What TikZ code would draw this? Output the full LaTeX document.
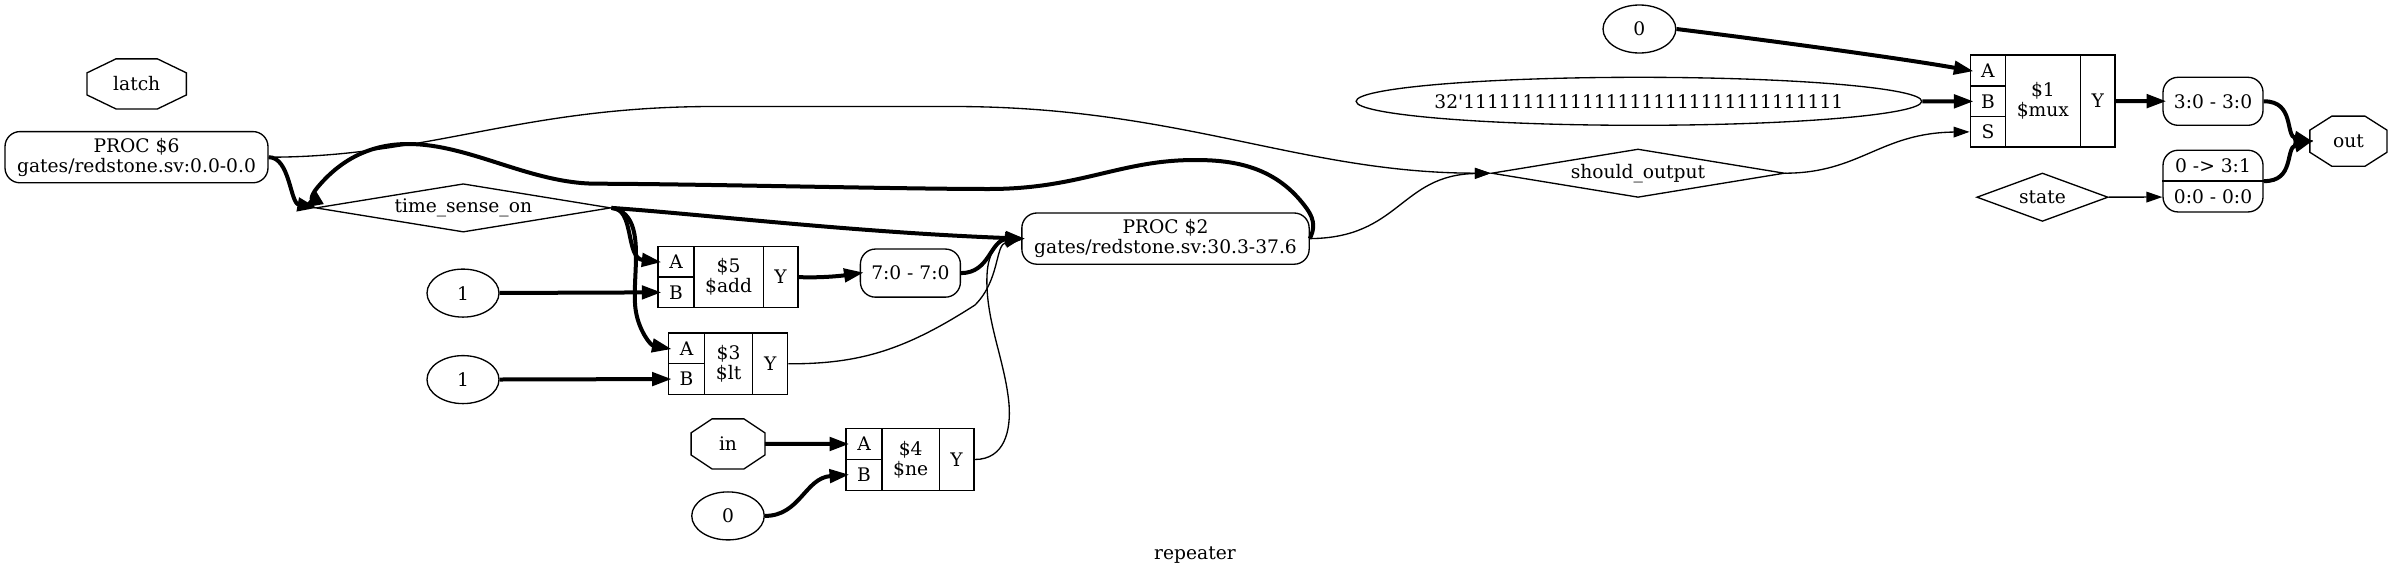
\documentclass[tikz,border=0pt]{standalone}
\usepackage{fontspec}
\setmainfont{DejaVu Serif}
\usetikzlibrary{arrows.meta,shapes.geometric}
\newcommand{\octagonpin}[3]{\draw[line width=1.33pt] ([xshift=#2]#1.north west) -- ([xshift=-#2]#1.north east) -- ([yshift=#3]#1.north east) -- ([yshift=-#3]#1.south east) -- ([xshift=-#2]#1.south east) -- ([xshift=#2]#1.south west) -- ([yshift=-#3]#1.south west) -- ([yshift=#3]#1.north west) -- cycle;}
\tikzset{
	every node/.style={font=\fontsize{18.67}{20}\selectfont, align=center, inner sep=0, line width=1.33pt},
	pin/.style={rectangle, minimum height=48.8},
	const/.style={draw, ellipse, minimum height=48},
	signal/.style={draw, diamond, shape aspect=6, minimum height=48.4},
	proc/.style={draw, rectangle, rounded corners=15, minimum height=51.2},
	slice/.style={draw, rectangle, rounded corners=15, minimum width=100},
	cell/.style={draw, rectangle},
	wire/.style={line width=1.33pt, -{Triangle[length=16pt,width=10.7pt]}},
	bus/.style={line width=4pt, -{Triangle[length=19.7pt,width=13.3pt]}, shorten >=-4pt},
}
\begin{document}
\begin{tikzpicture}[x=1pt,y=1pt,yscale=-1,xscale=1]
\useasboundingbox (0,0) rectangle (2392,576);

% left side
\node[pin, minimum width=98] (latch) at (136.7,83.9) {latch};
\octagonpin{latch}{29}{14}
\node[proc, minimum width=263] (proc6) at (136.5,157.2) {PROC \$6\\gates/redstone.sv:0.0-0.0};
\node[signal, minimum width=295] (timesense) at (463.3,207.9) {time\_sense\_on};
\node[const, minimum width=72] (one5) at (463,293.1) {1};
\node[const, minimum width=72] (one3) at (463,379.6) {1};
\node[pin, minimum width=72.5] (in) at (728,443.9) {in};
\octagonpin{in}{21}{14}
\node[const, minimum width=72.5] (zero4) at (728,515.9) {0};

% gates
\node[cell, minimum width=35.7, minimum height=30.4] (a5) at (676,261.7) {A};
\node[cell, minimum width=35.7, minimum height=30.9] (b5) at (676,292.3) {B};
\node[cell, minimum width=69.4, minimum height=61.3] (m5) at (728.6,277.1) {\$5\\\$add};
\node[cell, minimum width=34.7, minimum height=61.3] (y5) at (780.6,277.1) {Y};

\node[cell, minimum width=36.2, minimum height=30.5] (a3) at (686.5,348.35) {A};
\node[cell, minimum width=36.2, minimum height=30.9] (b3) at (686.5,379) {B};
\node[cell, minimum width=48, minimum height=61.4] (m3) at (728.6,363.8) {\$3\\\$lt};
\node[cell, minimum width=35.2, minimum height=61.4] (y3) at (770.2,363.8) {Y};

\node[cell, minimum width=36.2, minimum height=30.9] (a4) at (864,444) {A};
\node[cell, minimum width=36.2, minimum height=30.8] (b4) at (864,474.9) {B};
\node[cell, minimum width=57.2, minimum height=61.7] (m4) at (910.7,459.5) {\$4\\\$ne};
\node[cell, minimum width=34.7, minimum height=61.7] (y4) at (956.6,459.5) {Y};

\node[slice, minimum height=48.1] (add) at (910.4,273.1) {7:0 - 7:0};
\node[proc, minimum width=287.3] (proc2) at (1165.5,238.6) {PROC \$2\\gates/redstone.sv:30.3-37.6};

% right side
\node[const, minimum width=72.8] (zero1) at (1639.4,29) {0};
\node[const, minimum width=565.6, inner xsep=-10] (ones) at (1638.9,101.3) {32\textquotesingle 11111111111111111111111111111111};
\node[signal, minimum width=293] (shouldout) at (1638,173.2) {should\_output};
\node[signal, shape aspect=2.7, minimum width=131.3] (state) at (2042.4,197.2) {state};

\node[cell, minimum width=35.3, minimum height=31] (a1) at (1987.9,70.5) {A};
\node[cell, minimum width=35.3, minimum height=30.7] (b1) at (1987.9,101.35) {B};
\node[cell, minimum width=35.3, minimum height=30.3] (s1) at (1987.9,131.85) {S};
\node[cell, minimum width=74.8, minimum height=92] (m1) at (2042.9,101) {\$1\\\$mux};
\node[cell, minimum width=34.7, minimum height=92] (y1) at (2097.7,101) {Y};

\node[slice, minimum height=48] (range) at (2213,101.3) {3:0 - 3:0};
\node[slice, minimum height=61.7] (concat) at (2213,181.1) {};
\node[minimum width=100] (concathi) at (2213,166) {0 -> 3:1};
\node[minimum width=100] (concatlo) at (2213,197) {0:0 - 0:0};
\draw[line width=1.33pt] (concat.west) -- (concat.east);
\node[pin, minimum width=75.8] (out) at (2348.4,141.2) {out};
\octagonpin{out}{22}{14}

\node (title) at (1195,554.6) {repeater};

% connections
\draw[wire] (proc6.east) .. controls (430,157) and (520,106.5) .. (714,106.5) -- (953,106.5) .. controls (1180,106.5) and (1300,173) .. (shouldout.west);
\draw[bus, shorten >=0pt] (proc6.east) .. controls (290,157) and (290,203) .. ([xshift=2]timesense.west);
\draw[bus, shorten >=0pt] (proc2.east) .. controls (1318,222) and (1310,212) .. (1300,200) .. controls (1270,165) and (1230,160) .. (1195,160) .. controls (1120,160) and (1080,189) .. (989,189) .. controls (900,189) and (700,184) .. (597,183.7) .. controls (530,183.7) and (470,144) .. (408,144) .. controls (370,144) and (340,160) .. (317,188) .. controls (311,195) and (308,205) .. ([xshift=-12]timesense.west);
\draw[bus] (timesense.east) .. controls (700,214) and (850,232) .. (proc2.west);
\draw[bus] (timesense.east) .. controls (635,208) and (625,258) .. (a5.west);
\draw[bus] (timesense.east) .. controls (650,214) and (630,280) .. (636,312) .. controls (639,330) and (650,345) .. (a3.west);
\draw[bus] (one5) -- (b5);
\draw[bus] (one3) -- (b3);
\draw[bus] (in) -- (a4);
\draw[bus] (zero4.east) .. controls (800,516) and (805,478) .. (b4.west);
\draw[bus] (y5.east) .. controls (820,278) and (840,276) .. (add.west);
\draw[bus] (add.east) .. controls (990,273) and (990,240) .. (proc2.west);
\draw[wire] (y3.east) .. controls (860,364) and (905,350) .. (975,305) .. controls (1000,280) and (995,245) .. (proc2.west);
\draw[wire] (y4.east) .. controls (1005,459.5) and (1011,430) .. (1009,404) .. controls (1005,360) and (985,320) .. (987,275) .. controls (988,250) and (1000,240) .. (proc2.west);
\draw[wire] (proc2.east) .. controls (1400,238) and (1400,175) .. (shouldout.west);
\draw[bus] (zero1.east) .. controls (1750,38) and (1900,58) .. (a1.west);
\draw[bus] (ones) -- (b1);
\draw[wire] (shouldout.east) .. controls (1860,173) and (1880,133) .. (s1.west);
\draw[bus] (y1) -- (range);
\draw[bus] (range.east) .. controls (2295,101) and (2285,136) .. (out.west);
\draw[bus] (concat.east) .. controls (2295,181.7) and (2285,148) .. (out.west);
\draw[wire] (state) -- (concatlo);

\end{tikzpicture}
\end{document}
